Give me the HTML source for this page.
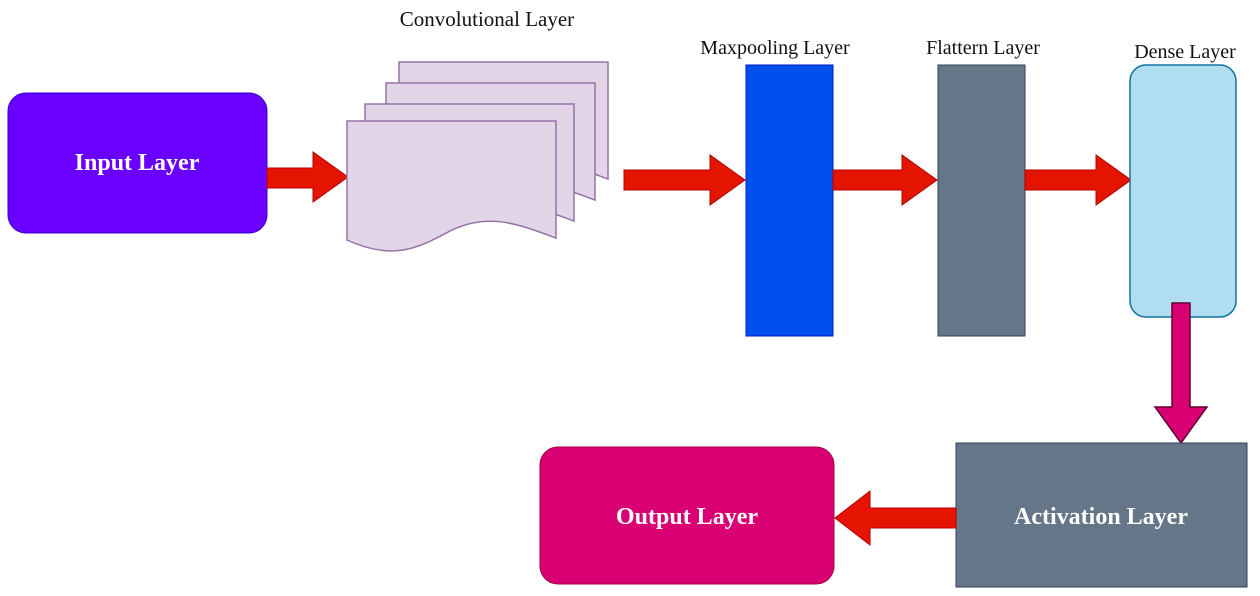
<!DOCTYPE html>
<html><head><style>
body{margin:0;background:#fff;}
svg{display:block;font-family:"Liberation Serif",serif;}
</style></head><body>
<svg width="1260" height="596" viewBox="0 0 1260 596">
<defs>
<path id="doc" d="M0,0 H209 V117 C173,104 143,91 105,109 C73,126 48,141 0,119 Z"/>
</defs>
<rect x="8" y="93" width="259" height="140" rx="18" fill="#6a00ff" stroke="#3700cc"/>
<text x="137" y="170" font-size="24" fill="#fff" text-anchor="middle" font-weight="bold">Input Layer</text>
<polygon points="267,168 313,168 313,152 348,177 313,202 313,188 267,188" fill="#e51400" stroke="#b20000"/>
<g fill="#e1d5e7" stroke="#9673a6" stroke-width="1.5">
<use href="#doc" x="399" y="62"/>
<use href="#doc" x="386" y="83"/>
<use href="#doc" x="365" y="104"/>
<use href="#doc" x="347" y="121"/>
</g>
<text x="487" y="26" font-size="21" text-anchor="middle" fill="#111">Convolutional Layer</text>
<polygon points="624,170 710,170 710,155 745,180 710,205 710,190 624,190" fill="#e51400" stroke="#b20000"/>
<rect x="746" y="65" width="87" height="271" fill="#0050ef" stroke="#001dbc"/>
<text x="775" y="54" font-size="20" text-anchor="middle" fill="#111">Maxpooling Layer</text>
<polygon points="833,170 902,170 902,155 937,180 902,205 902,190 833,190" fill="#e51400" stroke="#b20000"/>
<rect x="938" y="65" width="87" height="271" fill="#647687" stroke="#314354"/>
<text x="983" y="54" font-size="20" text-anchor="middle" fill="#111">Flattern Layer</text>
<polygon points="1025,170 1096,170 1096,155 1131,180 1096,205 1096,190 1025,190" fill="#e51400" stroke="#b20000"/>
<rect x="1130" y="65" width="106" height="252" rx="16" fill="#b1ddf0" stroke="#10739e" stroke-width="1.5"/>
<text x="1185" y="58" font-size="20" text-anchor="middle" fill="#111">Dense Layer</text>
<polygon points="1172,303 1190,303 1190,407 1207,407 1181,443 1155,407 1172,407" fill="#d80073" stroke="#600030" stroke-width="1.5"/>
<rect x="956" y="443" width="291" height="144" fill="#647687" stroke="#314354"/>
<text x="1101" y="524" font-size="24" text-anchor="middle" fill="#fff" font-weight="bold">Activation Layer</text>
<polygon points="956,508 870,508 870,491 835,518 870,545 870,528 956,528" fill="#e51400" stroke="#b20000"/>
<rect x="540" y="447" width="294" height="137" rx="18" fill="#d80073" stroke="#a50040"/>
<text x="687" y="524" font-size="24" text-anchor="middle" fill="#fff" font-weight="bold">Output Layer</text>
</svg>
</body></html>
